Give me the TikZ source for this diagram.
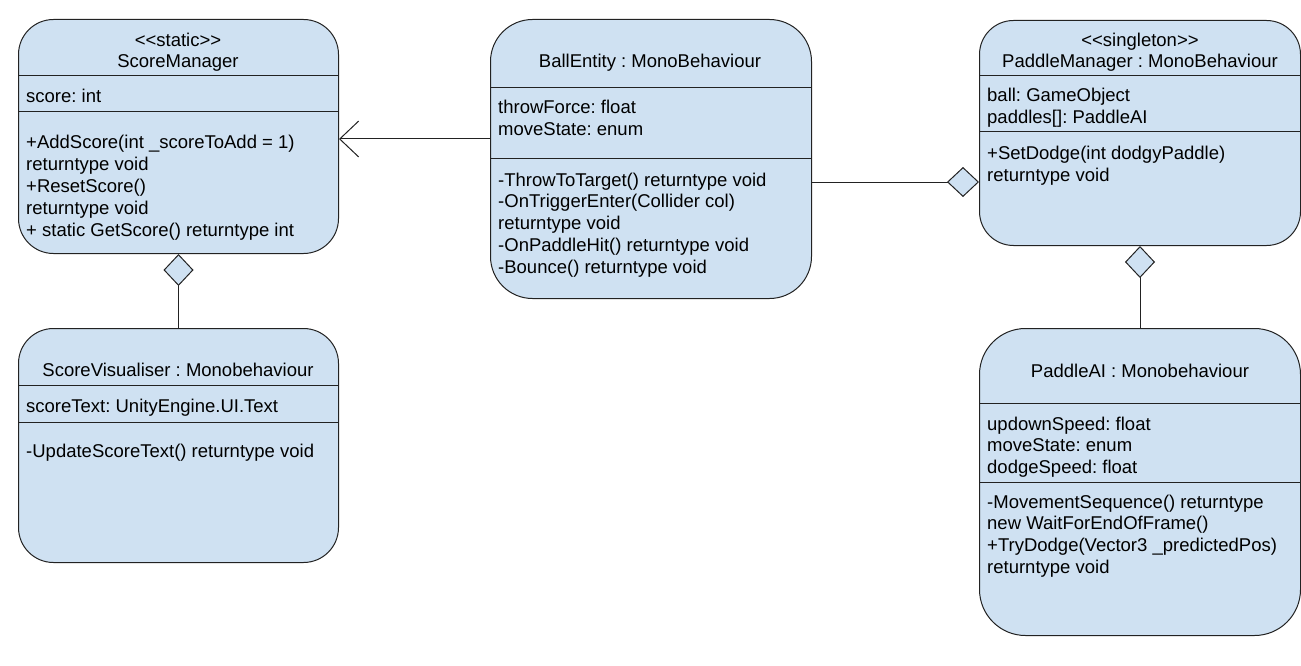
\documentclass[tikz,border=0pt]{standalone}
\usepackage{fontspec}
\setmainfont{Liberation Sans}
\frenchspacing
\usetikzlibrary{arrows.meta}

\definecolor{classfill}{RGB}{207,225,242}
\definecolor{classline}{RGB}{34,34,34}

\tikzset{
	classbox/.style={draw=classline, fill=classfill, line width=1pt, inner sep=0pt, anchor=north west},
	member/.style={anchor=base west, inner sep=0pt, font=\fontsize{18.5}{21.75}\selectfont},
	title/.style={member, anchor=base},
	divider/.style={draw=classline, line width=1pt},
	link/.style={draw=classline, line width=1pt},
	aggr/.style={link, -{Diamond[length=32pt, width=30pt, fill=classfill]}},
	assoc/.style={link, -{Straight Barb[length=19pt, width=36pt]}}
}

\begin{document}
\begin{tikzpicture}[x=1pt, y=-1pt]
		%page size
		\useasboundingbox (0,0) rectangle (1301,666);
		
		%line spacing inside the compartments
		\def\lsep{21.75}
		
		%class boxes
		\node[classbox, rounded corners=35pt, minimum width=320pt, minimum height=234pt] (score) at (18,19) {};
		\node[classbox, rounded corners=42pt, minimum width=321pt, minimum height=279pt] (ball) at (490,19) {};
		\node[classbox, rounded corners=34pt, minimum width=321pt, minimum height=225pt] (paddle) at (979,20) {};
		\node[classbox, rounded corners=35pt, minimum width=320pt, minimum height=234pt] (visual) at (18,328) {};
		\node[classbox, rounded corners=46pt, minimum width=321pt, minimum height=307pt] (ai) at (979,328) {};
		
		%compartment lines
		\draw[divider] (score.west |- 0,76) -- (score.east |- 0,76);
		\draw[divider] (score.west |- 0,112) -- (score.east |- 0,112);
		\draw[divider] (ball.west |- 0,88) -- (ball.east |- 0,88);
		\draw[divider] (ball.west |- 0,159) -- (ball.east |- 0,159);
		\draw[divider] (paddle.west |- 0,76) -- (paddle.east |- 0,76);
		\draw[divider] (paddle.west |- 0,132) -- (paddle.east |- 0,132);
		\draw[divider] (visual.west |- 0,385) -- (visual.east |- 0,385);
		\draw[divider] (visual.west |- 0,422) -- (visual.east |- 0,422);
		\draw[divider] (ai.west |- 0,403) -- (ai.east |- 0,403);
		\draw[divider] (ai.west |- 0,482) -- (ai.east |- 0,482);
		
		%ScoreManager
		\node[title] (score-st) at (178,47) {<\kern0pt<static>\kern0pt>};
		\node[title] (score-name) at (178,68) {ScoreManager};
		\node[member] (score-at) at (26,103) {score: int};
		\foreach \t [count=\i from 0] in {{+AddScore(int \_scoreToAdd = 1)}, {returntype void}, {+ResetScore()}, {returntype void}, {+ static GetScore() returntype int}}
			\node[member] (score-op\i) at (26,149+\lsep*\i) {\t};
		
		%BallEntity
		\node[title] (ball-name) at (650,68) {BallEntity : MonoBehaviour};
		\foreach \t [count=\i from 0] in {{throwForce: float}, {moveState: enum}}
			\node[member] (ball-at\i) at (498,114+\lsep*\i) {\t};
		\foreach \t [count=\i from 0] in {{-ThrowToTarget() returntype void}, {-OnTriggerEnter(Collider col)}, {returntype void}, {-OnPaddleHit() returntype void}, {-Bounce() returntype void}}
			\node[member] (ball-op\i) at (498,186+\lsep*\i) {\t};
		
		%PaddleManager
		\node[title] (paddle-st) at (1140,47) {<\kern0pt<singleton>\kern0pt>};
		\node[title] (paddle-name) at (1140,68) {PaddleManager : MonoBehaviour};
		\foreach \t [count=\i from 0] in {{ball: GameObject}, {paddles[]: PaddleAI}}
			\node[member] (paddle-at\i) at (987,102+\lsep*\i) {\t};
		\foreach \t [count=\i from 0] in {{+SetDodge(int dodgyPaddle)}, {returntype void}}
			\node[member] (paddle-op\i) at (987,160+\lsep*\i) {\t};
		
		%ScoreVisualiser
		\node[title] (visual-name) at (178,376) {ScoreVisualiser : Monobehaviour};
		\node[member] (visual-at) at (26,412) {scoreText: UnityEngine.UI.Text};
		\node[member] (visual-op) at (26,457) {-UpdateScoreText() returntype void};
		
		%PaddleAI
		\node[title] (ai-name) at (1140,377) {PaddleAI : Monobehaviour};
		\foreach \t [count=\i from 0] in {{updownSpeed: float}, {moveState: enum}, {dodgeSpeed: float}}
			\node[member] (ai-at\i) at (987,430+\lsep*\i) {\t};
		\foreach \t [count=\i from 0] in {{-MovementSequence() returntype}, {new WaitForEndOfFrame()}, {+TryDodge(Vector3 \_predictedPos)}, {returntype void}}
			\node[member] (ai-op\i) at (987,508+\lsep*\i) {\t};
		
		%relations
		\draw[assoc] (ball.west |- 0,139) -- (score.east |- 0,139);
		\draw[aggr] (ball.east |- 0,182) -- (paddle.west |- 0,182);
		\draw[aggr] (visual.north) -- (score.south);
		\draw[aggr] (ai.north) -- (paddle.south);
	\end{tikzpicture}
\end{document}
